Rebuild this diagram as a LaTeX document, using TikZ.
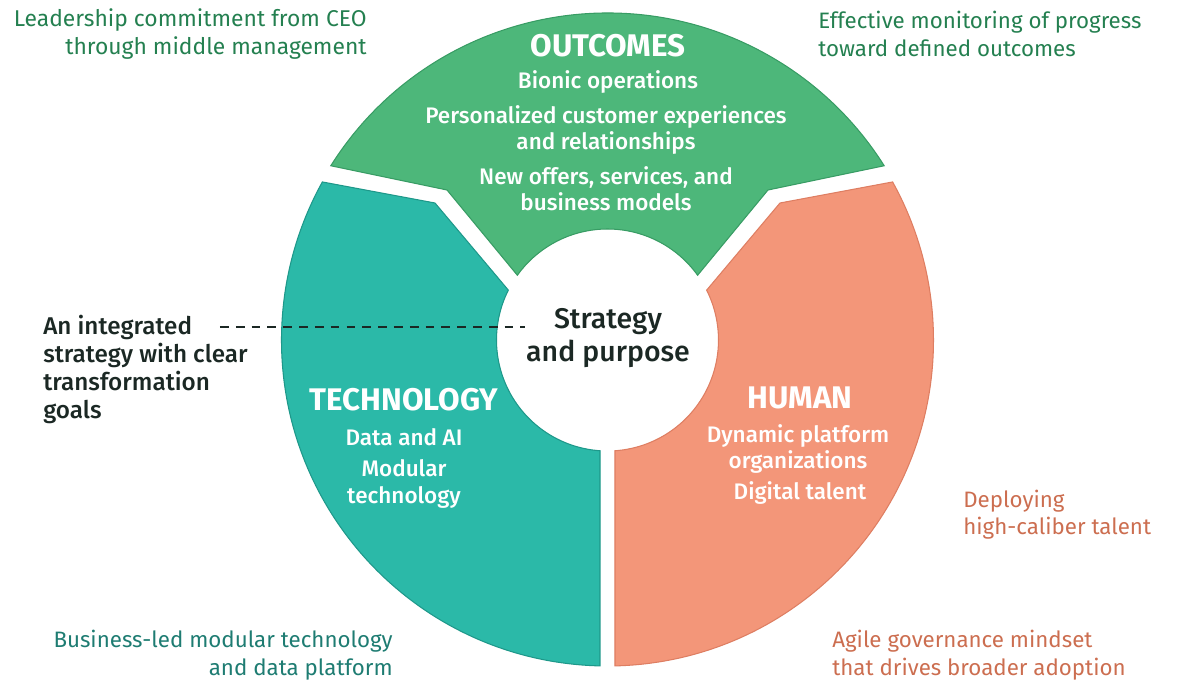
\documentclass[tikz,border=0pt]{standalone}
\usepackage{fontspec}
\setmainfont{Fira Sans}
\newfontfamily\medfont{Fira Sans Medium}
\pgfdeclarelayer{edgelayer}
\pgfdeclarelayer{nodelayer}
\pgfsetlayers{edgelayer,nodelayer,main}
\definecolor{outgreen}{RGB}{77,183,122}
\definecolor{outgreenedge}{RGB}{56,156,100}
\definecolor{techteal}{RGB}{43,185,168}
\definecolor{techtealedge}{RGB}{30,152,138}
\definecolor{humsalmon}{RGB}{243,150,121}
\definecolor{humsalmonedge}{RGB}{222,126,98}
\definecolor{notegreen}{RGB}{36,128,80}
\definecolor{noteteal}{RGB}{30,124,114}
\definecolor{notesalmon}{RGB}{204,110,80}
\definecolor{darktext}{RGB}{27,40,36}
\tikzstyle{none}=[inner sep=0pt]
\tikzstyle{sector}=[line width=0.6pt]
\tikzstyle{sectorhead}=[inner sep=0pt, text=white, font=\bfseries\fontsize{17.8}{20}\selectfont]
\tikzstyle{sectoritem}=[inner sep=0pt, text=white, align=center, font=\medfont\fontsize{12.8}{15}\selectfont]
\tikzstyle{sidenote}=[inner sep=0pt, font=\fontsize{12.7}{15.6}\selectfont]

\begin{document}
\begin{tikzpicture}
			\useasboundingbox (-12.15,-6.82) rectangle (11.39,6.8);
			\begin{pgfonlayer}{nodelayer}
			\node [style=sectorhead] (outhead) at (0.01, 5.88) {OUTCOMES};
			\node [style=sectoritem] (bionic) at (0.01, 5.16) {Bionic operations};
			\node [style=sectoritem] (personal) at (-0.03, 4.2) {Personalized customer experiences\\and relationships};
			\node [style=sectoritem] (offers) at (-0.03, 3.02) {New offers, services, and\\business models};
			\node [style=none, align=center, text=darktext, font=\medfont\fontsize{16.2}{18.5}\selectfont] (strategy) at (0.01, 0.04) {Strategy\\and purpose};
			\node [style=sectorhead] (techhead) at (-4.07, -1.2) {TECHNOLOGY};
			\node [style=sectoritem] (data) at (-4.07, -1.94) {Data and AI};
			\node [style=sectoritem] (modular) at (-4.07, -2.88) {Modular\\technology};
			\node [style=sectorhead] (humhead) at (3.85, -1.16) {HUMAN};
			\node [style=sectoritem] (dynamic) at (3.81, -2.18) {Dynamic platform\\organizations};
			\node [style=sectoritem] (talent) at (3.85, -3.06) {Digital talent};
			\node [style=sidenote, anchor=east, align=right, text=notegreen, font=\fontsize{13}{15.8}\selectfont] (leader) at (-4.81, 6.12) {Leadership commitment from CEO\\through middle management};
			\node [style=sidenote, anchor=west, align=left, text=notegreen] (monitor) at (4.21, 6.12) {Effective monitoring of progress\\toward defined outcomes};
			\node [style=sidenote, anchor=west, align=left, text=darktext, font=\medfont\fontsize{13.8}{15.8}\selectfont] (integrated) at (-11.29, -0.59) {An integrated\\strategy with clear\\transformation\\goals};
			\node [style=sidenote, anchor=east, align=right, text=noteteal] (business) at (-4.29, -6.3) {Business-led modular technology\\and data platform};
			\node [style=sidenote, anchor=west, align=left, text=notesalmon] (deploy) at (7.11, -3.49) {Deploying\\high-caliber talent};
			\node [style=sidenote, anchor=west, align=left, text=notesalmon] (agile) at (4.49, -6.3) {Agile governance mindset\\that drives broader adoption};
			\coordinate (dashstart) at (-7.75, 0.26);
			\coordinate (dashend) at (-1.65, 0.26);
			\end{pgfonlayer}
			\begin{pgfonlayer}{edgelayer}
			% outcomes
			\filldraw [style=sector, fill=outgreen, draw=outgreenedge] (35.7:2.22) arc [start angle=35.7, end angle=144.3, radius=2.22] -- (-3.21, 3.0) -- (147.8:6.54) arc [start angle=147.8, end angle=32.2, radius=6.54] -- (3.21, 3.0) -- cycle;
			% technology
			\filldraw [style=sector, fill=techteal, draw=techtealedge] (153.3:2.22) arc [start angle=153.3, end angle=266.13, radius=2.22] -- (268.68:6.52) arc [start angle=268.68, end angle=151, radius=6.52] -- (-3.45, 2.74) -- cycle;
			% human
			\filldraw [style=sector, fill=humsalmon, draw=humsalmonedge] (26.7:2.22) arc [start angle=26.7, end angle=-86.13, radius=2.22] -- (-88.68:6.52) arc [start angle=-88.68, end angle=29, radius=6.52] -- (3.45, 2.74) -- cycle;
			\draw [darktext, dashed, line width=0.8pt, dash pattern=on 5pt off 4pt] (dashstart) to (dashend);
			\end{pgfonlayer}
			\end{tikzpicture}
\end{document}
